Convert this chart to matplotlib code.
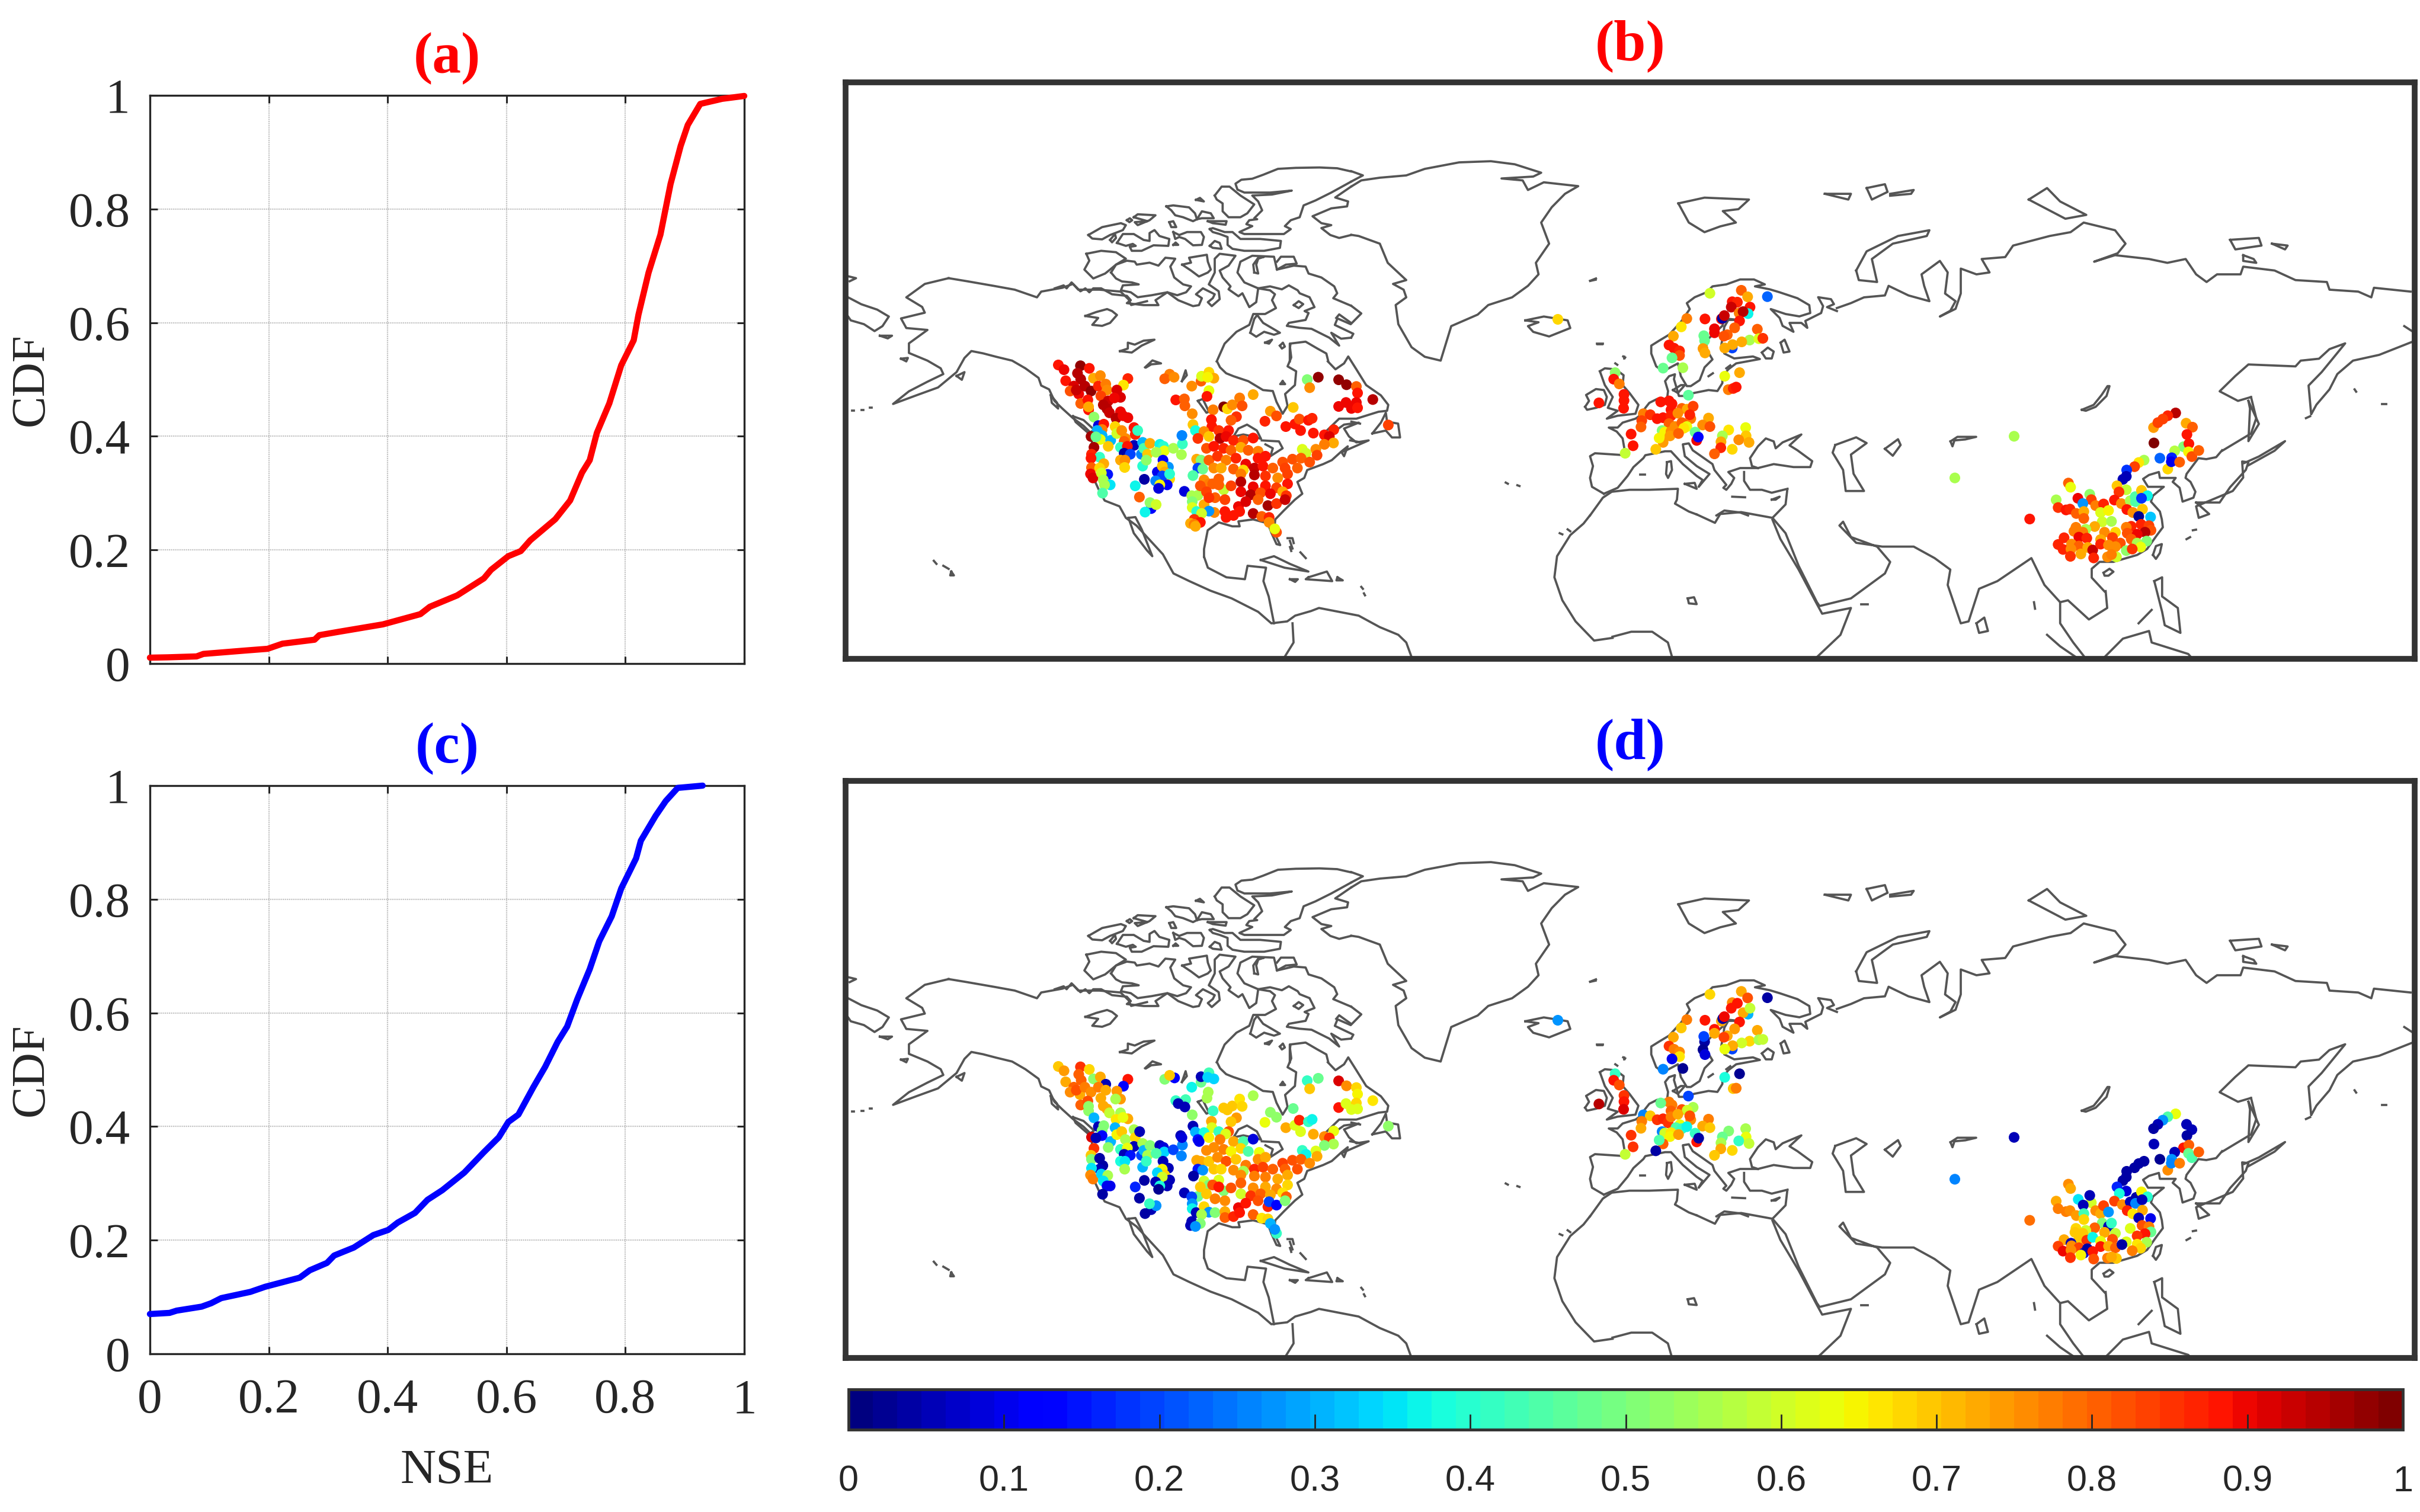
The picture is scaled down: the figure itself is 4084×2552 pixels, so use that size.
import numpy as np
import matplotlib
matplotlib.use('Agg')
from matplotlib import pyplot as plt
from matplotlib.cm import ScalarMappable
from matplotlib.colors import Normalize

W, H = 4084, 2552

# CDF curves (a) and (c)
nse_a = [0, .03, .0785, .09, .161, .198, .223, .277, .285, .318, .392, .455, .471, .517, .562, .574, .603, .624, .64,
         .682, .707, .727, .74, .752, .773, .793, .814, .822, .839, .859, .876, .893, .905, .926, .963, 1]
cdf_a = [.0104, .011, .0126, .017, .023, .026, .035, .042, .05, .056, .069, .087, .10, .12, .15, .165, .189, .198, .217,
         .254, .287, .336, .358, .406, .458, .525, .569, .614, .688, .755, .844, .911, .948, .985, .994, .999]
nse_c = [0, .033, .045, .087, .103, .12, .169, .194, .252, .269, .298, .31, .343, .376, .401, .417, .446, .467, .492,
         .529, .562, .587, .603, .62, .645, .665, .686, .702, .719, .74, .756, .777, .793, .818, .826, .851, .868, .888, .93]
cdf_c = [.07, .072, .076, .083, .089, .098, .109, .118, .134, .147, .16, .173, .187, .209, .218, .231, .248, .271, .288,
         .319, .355, .381, .408, .421, .469, .505, .549, .576, .624, .677, .726, .77, .819, .872, .903, .947, .973, .996, 1]

tick_vals = [0, .2, .4, .6, .8, 1]
tick_text = ['0', '0.2', '0.4', '0.6', '0.8', '1']
cbar_vals = [0, .1, .2, .3, .4, .5, .6, .7, .8, .9, 1]
cbar_text = ['0', '0.1', '0.2', '0.3', '0.4', '0.5', '0.6', '0.7', '0.8', '0.9', '1']

# digitising frames: origin x, origin y, scale x, scale y -> map units
FRAMES = {'z1': (1400, 120, 1.12, 1.545), 'z2': (2700, 120, 1.133, 1.545), 'z5': (1750, 580, 2.412, 3.0),
          'z6': (2650, 450, 3.0, 3.0), 'z7': (3250, 650, 3.0, 3.0), 'z12': (1780, 260, 3.0, 3.0),
          'z8': (1750, 577, 2.412, 3.0), 'z9': (2650, 447, 3.0, 3.0), 'z10': (3250, 647, 3.0, 3.0)}

coast_z1 = [
    [(35,590),(60,608),(90,622),(112,640),(100,665),(85,678),(65,660),(40,650),(35,640)],
    [(35,535),(50,540),(38,548)],
    [(225,540),(180,555),(145,590),(175,615),(180,630),(135,645),(145,670),(185,675),(150,710),(150,735),(185,755),(210,775),(215,790),(185,810),(150,835),(120,868),(165,845),(205,825),(240,785),(255,748),(268,730),(290,736),(315,745),(345,755),(370,775),(395,800),(400,820),(415,830),(425,860),(440,880),(460,905),(480,925),(495,945),(497,960),(492,1000),(495,1050),(510,1095),(520,1120),(548,1135),(560,1165),(580,1185),(600,1215),(630,1260),(650,1310),(680,1330),(720,1355),(760,1375),(810,1410),(835,1440),(865,1435),(880,1420),(910,1408),(925,1400),(1000,1420),(1040,1450),(1075,1470),(1090,1490),(1100,1528)],
    [(225,540),(260,548),(310,560),(350,570),(392,590),(400,575),(440,565),(460,555),(470,570),(510,570),(550,575),(565,595),(570,610),(600,600)],
    [(565,1165),(578,1163),(590,1195),(610,1265),(600,1250),(575,1205),(565,1165)],
    [(240,795),(255,785),(250,805),(240,795)],
    [(135,750),(148,748),(145,757),(135,750)],
    [(95,690),(118,690),(110,697),(95,690)],
    [(42,885),(46,885)], [(60,883),(64,883)], [(76,877),(80,877)],
    [(460,900),(480,910),(500,935),(490,945),(465,915),(460,900)],
    [(418,845),(430,865),(432,880),(420,865),(418,845)],
    [(708,1267),(715,1295),(750,1320),(785,1325),(790,1290),(825,1295),(820,1330),(830,1370),(840,1440)],
    [(875,1440),(877,1490),(860,1528)],
    [(815,1275),(840,1265),(870,1285),(905,1305),(860,1295),(815,1275)],
    [(905,1320),(940,1305),(950,1330),(900,1325),(905,1320)],
    [(870,1325),(885,1325),(880,1332),(870,1325)],
    [(960,1320),(970,1328),(958,1328),(960,1320)],
    [(197,1277),(202,1285)], [(215,1290),(225,1298)], [(230,1305),(235,1315),(228,1315),(230,1305)],
    [(1005,1345),(1008,1350)], [(1010,1362),(1012,1367)], [(1278,1073),(1282,1076)], [(1300,1080),(1304,1082)],
    [(1380,1205),(1385,1208)], [(1395,1195),(1400,1200)], [(870,1225),(875,1245)], [(890,1255),(900,1270)],
    [(1452,713),(1460,713)], [(1438,547),(1448,544)], [(1502,745),(1502,750)],
    [(1315,650),(1350,640),(1395,650),(1400,670),(1360,692),(1330,680),(1320,665),(1340,655),(1315,650)],
    [(1437,1159),(1425,1180),(1400,1210),(1375,1265),(1370,1320),(1385,1380),(1410,1435),(1445,1485),(1480,1478)],
    # Greenland
    [(986,301),(1005,285),(1040,278),(1090,272),(1125,255),(1190,238),(1250,235),(1295,243),(1345,265),(1330,275),(1270,280),(1310,285),(1320,310),(1350,290),(1415,300),(1390,320),(1365,355),(1345,395),(1360,450),(1335,500),(1340,530),(1320,560),(1290,590),(1245,610),(1225,635),(1175,665),(1165,710),(1155,755),(1125,745),(1100,720),(1075,660),(1070,610),(1090,590),(1085,570),(1065,555),(1090,545),(1055,500),(1040,450),(1000,430),(986,427)],
    [(986,261),(1008,272),(986,288)],
    [(986,612),(1005,632),(985,660),(960,645),(955,662),(990,685),(986,695)],
]
coast_z12 = [
    [(0,680),(45,665),(60,680),(85,650),(130,695),(155,680),(175,700),(195,680),(235,680),(290,710),(365,718),(385,740),(365,755),(450,765),(525,765),(510,740),(570,700),(625,740),(700,770),(730,765),(745,730),(715,710),(750,680),(810,710),(800,730),(775,750),(795,770),(835,735),(830,695),(780,660),(810,600),(810,530),(835,505),(915,515),(880,565),(835,590),(850,625),(890,670),(880,685),(930,720),(950,705),(985,775),(1020,750),(1030,680),(1090,690),(1115,710),(1100,740),(1120,780),(1065,810),(1025,810),(1005,810),(985,865),(920,900),(860,960),(820,1050)],
    [(1030,680),(960,650),(925,600),(940,545),(1000,515),(1110,520),(1125,585),(1210,565),(1270,570),(1285,605),(1350,625),(1415,670),(1430,705),(1410,730),(1500,768)],
    [(1030,680),(1090,670),(1150,685),(1185,665),(1230,690),(1240,705),(1290,725),(1315,775),(1265,795),(1285,805),(1270,840),(1185,855),(1175,870),(1240,880),(1300,885),(1390,930),(1440,970),(1400,905),(1450,935),(1500,930)],
    [(1010,600),(1005,560),(1030,525),(1060,520),(1030,530),(1020,560),(1030,605),(1010,600)],
    [(1125,545),(1145,520),(1210,520),(1225,555),(1170,560),(1125,585)],
    [(1210,765),(1235,745),(1258,760),(1235,780),(1210,765)],
    [(1425,830),(1440,812),(1500,855)],
    [(170,410),(240,370),(335,350),(360,360),(345,385),(280,410),(240,432),(190,428),(170,410)],
    [(280,435),(305,405),(310,425),(290,447),(280,435)],
    [(315,450),(345,405),(400,405),(450,435),(480,440),(480,400),(505,385),(530,415),(580,430),(575,465),(500,462),(440,490),(390,490),(380,470),(410,465),(395,455),(360,465),(315,450)],
    [(400,320),(420,305),(510,310),(480,335),(420,360),(405,345),(470,340),(400,320)],
    [(365,335),(380,325),(392,335),(378,345),(365,335)],
    [(565,265),(600,260),(680,270),(710,300),(720,330),(700,340),(650,320),(610,310),(590,285),(565,265)],
    [(720,330),(745,290),(790,300),(805,325),(745,325),(720,330)],
    [(775,340),(870,340),(865,358),(800,350),(775,340)],
    [(580,345),(600,340),(615,370),(590,370),(580,345)],
    [(715,232),(735,222),(755,240),(715,232)],
    [(600,395),(630,410),(670,395),(740,395),(755,420),(745,460),(700,462),(660,430),(630,420),(610,430),(600,395)],
    [(600,460),(612,448),(625,460),(600,460)],
    [(785,380),(800,375),(860,395),(900,395),(940,430),(1040,430),(1145,440),(1140,475),(1060,490),(960,490),(900,480),(875,460),(875,420),(835,405),(800,395),(785,380)],
    [(785,465),(810,440),(835,450),(845,480),(800,475),(785,465)],
    [(160,505),(235,490),(310,497),(360,530),(310,560),(280,585),(255,605),(195,630),(165,600),(150,585),(175,540),(160,505)],
    [(285,600),(310,560),(365,540),(405,545),(415,560),(480,550),(525,565),(560,525),(610,530),(585,570),(605,625),(650,660),(690,670),(665,700),(620,715),(570,700),(490,715),(420,725),(385,700),(335,690),(345,665),(425,660),(390,650),(340,645),(310,630),(285,600)],
    [(645,560),(690,550),(680,525),(770,510),(775,545),(790,585),(775,600),(730,620),(690,590),(645,560)],
    [(155,820),(210,800),(265,785),(290,795),(315,815),(280,855),(240,870),(190,865),(220,830),(155,820)],
    [(330,998),(370,985),(370,955),(405,965),(450,945),(505,940),(440,970),(390,1005),(330,998)],
    [(990,905),(1010,835),(1025,815),(1055,855),(1140,905),(1110,915),(1060,900),(1020,925),(990,905)],
    [(1065,955),(1100,940),(1085,960),(1065,955)],
    [(1140,970),(1155,955),(1165,975),(1150,985),(1140,970)],
    [(1190,1050),(1190,960),(1270,950),(1330,985),(1375,1010),(1385,1050)],
    # Ellesmere, Devon and the west side of Greenland
    [(1500,88),(1430,72),(1340,68),(1220,70),(1130,75),(1055,105),(1000,125),(945,130),(915,150),(925,180),(960,195),(1090,195),(1200,185),(1100,205),(1000,210),(1030,240),(1050,285),(1010,325),(1025,330),(985,335),(970,355),(1000,365),(935,395),(960,405),(1100,405),(1160,405),(1195,380),(1165,365),(1195,335),(1240,320),(1260,260),(1320,235),(1400,195),(1500,140)],
    [(810,210),(845,165),(885,165),(940,210),(1010,255),(975,300),(940,320),(880,320),(850,290),(850,250),(820,230),(810,210)],
    [(1500,165),(1420,220),(1485,240),(1480,265),(1400,275),(1305,315),(1350,350),(1400,360),(1350,375),(1395,410),(1440,425),(1500,410)],
]
coast_z5 = [
    [(733,90),(745,120),(770,150),(800,165),(860,190),(920,235),(960,240),(975,295),(1000,355),(1020,315),(1010,255),(1050,210),(1055,140),(1020,115),(1035,70),(1030,20),(1032,0)],
    [(1184,90),(1215,130),(1250,100),(1267,65),(1300,130),(1340,210),(1400,262),(1430,310),(1425,340),(1390,345),(1300,380),(1230,380),(1180,440),(1160,470),(1210,445),(1250,410),(1310,400),(1250,430),(1270,470),(1300,500),(1350,490),(1240,550),(1250,570),(1265,520),(1240,545),(1200,590),(1165,610),(1100,640),(1088,680),(1060,700),(1080,760),(1050,790),(1005,845),(970,890),(965,955),(990,1020),(975,1015),(955,960),(940,910),(880,890),(820,900),(825,925),(795,925),(740,905),(695,945),(680,1040),(680,1080)],
    [(800,470),(820,430),(855,410),(895,440),(912,482),(880,470),(840,460),(800,470)],
    [(915,490),(985,495),(1000,530),(950,570),(960,530),(930,510)],
    [(655,290),(675,280),(700,345),(690,350),(655,290)],
    [(440,120),(470,85),(505,100),(465,105),(445,120)],
    [(590,190),(605,135),(610,160),(590,190)],
    [(1000,190),(1010,205),(990,205),(1000,190)],
    [(1365,455),(1400,400),(1420,350),(1425,395),(1470,405),(1478,475),(1445,475),(1420,440),(1365,455)],
    [(1280,395),(1315,405)], [(1275,490),(1320,500)],
    [(1020,985),(1040,985),(1045,1010)], [(1030,1030),(1035,1050)],
]
coast_z6 = [
    [(100,1260),(165,1170),(210,1140),(300,1130),(400,1130),(545,1125),(540,1180),(530,1200),(600,1240),(640,1255)],
    [(170,1150),(110,1115),(100,1070),(115,1010),(100,960),(125,945),(278,955)],
    [(170,1150),(240,1120),(290,1060),(320,1015),(370,970),(380,955),(480,935),(510,935),(570,1000),(640,1060),(670,1080),(650,1115),(705,1050),(640,1010),(580,960),(570,900),(600,895),(620,930),(720,1000),(730,1030),(790,1105),(775,1120),(790,1130),(815,1100),(830,1070),(800,1040),(860,1020),(950,1020)],
    [(278,945),(265,870),(235,835),(195,815),(240,815),(265,790),(330,770),(345,760),(400,690),(440,670),(490,670),(495,630),(480,580),(500,555),(530,545),(525,570),(540,620),(550,655),(600,655),(625,640),(700,625),(745,630),(770,590),(770,560),(800,520),(840,490),(960,468),(925,455),(830,465),(780,440),(765,395),(775,340),(780,305),(800,270),(850,270),(780,262),(770,300),(720,345),(690,375),(690,420),(720,470),(680,510),(655,575),(610,605),(590,605),(560,555),(545,490),(470,530),(435,505),(410,440),(410,400),(450,375),(500,345),(560,280),(605,215),(590,185),(630,155),(690,130),(720,100),(790,90),(860,65),(930,65),(985,90),(935,100),(1010,115),(1060,130),(1150,160),(1210,195),(1215,235),(1160,252),(1090,240),(1015,215),(1060,260),(1075,300),(1130,330),(1110,285),(1170,285),(1200,310),(1190,275),(1270,235),(1280,200),(1255,155),(1320,165),(1335,190),(1300,205),(1350,225)],
    [(950,1020),(920,1010),(910,970),(950,910),(990,870),(1030,885),(1040,920),(1075,890),(1170,850),(1110,905),(1150,930),(1225,985),(1215,1015),(1130,1015),(1030,1000),(950,1020)],
    [(880,1040),(880,1085),(910,1130),(970,1130),(1020,1145),(1100,1125)],
    [(75,710),(95,680),(80,650),(130,620),(170,625),(185,660),(175,700),(130,715),(85,725),(75,710)],
    [(150,530),(175,515),(230,520),(270,550),(265,600),(300,640),(345,700),(330,745),(240,755),(185,770),(240,730),(190,715),(215,660),(195,630),(175,600),(150,530)],
    [(100,72),(130,60)], [(135,390),(165,390)], [(268,455),(278,460)], [(228,490),(238,497)], [(700,555),(722,540)], [(790,515),(810,500)],
    [(490,990),(510,985),(515,1030),(495,1070),(485,1050),(490,990)],
    [(580,1100),(630,1095),(640,1125),(580,1100)],
    [(355,1053),(378,1053)], [(820,1165),(885,1168)], [(1020,1180),(1060,1165),(1040,1180),(1020,1180)],
    [(970,435),(1000,410),(1030,430),(1020,465),(990,465),(970,435)],
    [(1065,385),(1085,370),(1110,430),(1080,435),(1065,385)],
    [(520,625),(560,600),(580,600),(545,640),(520,625)],
    [(740,1260),(780,1235),(860,1245),(900,1260)],
]
coast_z2 = [
    [(24,1475),(60,1462),(100,1462),(130,1490),(138,1528)],
    [(185,1156),(220,1178),(230,1155),(270,1150),(330,1165),(355,1130),(358,1095)],
    [(453,618),(480,605),(505,590),(545,585),(552,560),(590,585),(630,600),(620,560),(615,530),(650,495),(665,525),(660,580),(680,600),(670,625),(650,640),(680,620),(690,580),(690,515),(720,530),(745,525),(730,490),(775,485),(790,455),(860,430),(900,420),(925,395),(985,415),(1005,450),(990,475),(945,497),(985,480),(1050,490),(1085,500),(1120,490),(1140,530),(1160,550),(1180,530),(1225,530),(1230,510),(1290,520),(1330,545),(1390,550),(1395,570),(1450,575),(1475,590),(1480,565),(1550,575)],
    [(1538,665),(1555,680),(1555,705),(1490,740),(1440,755),(1410,790),(1395,830),(1370,870),(1360,895),(1355,820),(1380,785),(1425,710),(1395,725),(1375,750),(1340,755),(1330,770),(1240,765),(1215,795),(1185,835),(1220,860),(1245,850)],
    [(1245,850),(1255,905),(1245,945),(1190,990)],
    [(1240,860),(1260,920),(1240,965),(1243,880),(1240,860)],
    [(330,1165),(355,1205),(380,1290),(415,1385),(420,1395),(480,1375),(545,1310),(555,1280),(530,1240),(480,1215),(465,1175),(458,1185),(490,1230),(540,1240),(600,1240),(640,1270),(670,1300),(665,1340),(690,1440),(705,1435),(725,1350),(760,1330),(825,1270),(850,1340),(880,1385)],
    [(330,1170),(345,1220),(380,1300),(415,1390),(425,1415),(480,1400),(460,1470),(415,1528)],
    [(967,1356),(970,1400),(935,1430),(895,1380),(880,1385),(880,1440),(905,1490),(925,1525)],
    [(855,1470),(880,1500),(910,1528)],
    [(720,1440),(735,1425),(742,1460),(725,1465),(720,1440)],
    [(168,1375),(180,1372),(185,1390),(170,1388),(168,1375)],
    [(500,1390),(512,1390)], [(830,1385),(832,1402)],
    [(1140,1125),(1185,1125),(1205,1085),(1235,1040),(1240,1020),(1228,1018),(1230,1060),(1210,1095),(1175,1115),(1140,1135),(1145,1165),(1165,1155),(1140,1125)],
    [(1232,1022),(1260,1005),(1310,965),(1290,990),(1240,1028)],
    [(1060,1330),(1075,1320),(1075,1370),(1105,1400),(1110,1465),(1080,1445),(1075,1410),(1060,1330)],
    [(1030,1440),(1055,1405)],
    [(965,1528),(1000,1480),(1050,1460),(1055,1490),(1125,1520),(1130,1528)],
    [(1350,905),(1358,900)], [(1443,830),(1446,836)], [(1495,868),(1503,868)],
    [(150,345),(200,330),(285,335),(265,360),(235,365),(260,395),(230,405),(200,420),(170,395),(150,345)],
    [(430,320),(480,320),(475,335),(430,320)],
    [(510,305),(545,295),(550,315),(520,335),(510,305)],
    [(555,320),(600,310),(595,320),(555,325)],
    [(490,520),(510,470),(570,430),(630,415),(625,430),(560,450),(520,490),(530,550),(495,545),(490,520)],
    [(820,335),(855,305),(880,340),(930,375),(890,385),(820,335)],
    [(1205,440),(1260,435),(1265,455),(1215,465),(1205,440)],
    [(1285,450),(1315,455),(1310,465),(1285,450)],
    [(1230,480),(1250,490),(1255,500),(1230,495),(1230,480)],
    [(450,975),(490,955),(510,970),(480,1000),(485,1050),(505,1095),(470,1095),(465,1040),(445,995),(450,975)],
    [(545,985),(570,960),(575,975),(560,1003),(545,985)],
]
coast_z7 = [
    [(1500,330),(1470,365),(1420,375),(1380,370),(1320,450),(1315,470),(1340,490),(1365,540),(1355,570),(1300,590),(1285,520),(1250,490),(1265,470),(1185,470),(1180,440),(1130,455),(1100,475),(1125,515),(1205,515),(1150,560),(1140,590),(1185,640),(1195,680),(1200,720),(1170,760),(1120,830),(1070,860),(950,895),(880,895),(840,930),(840,975),(905,1045)],
    [(900,950),(930,930),(950,945),(925,965),(905,965),(900,950)],
    [(1150,860),(1165,815),(1195,805),(1185,850),(1165,880),(1150,860)],
    [(125,285),(160,262),(255,262),(200,275),(145,280),(135,310),(125,285)],
    [(790,125),(850,100),(890,50),(920,5),(930,5),(915,55),(860,110),(810,130),(790,125)],
    [(1320,780),(1338,770)], [(1352,735),(1368,732)],
]

# stations of panel (b): x, y, NSE
na_b = [(87,108,.89),(110,132,.9),(177,112,.97),(213,125,.89),(117,188,.88),(165,150,.95),(178,180,.95),(230,175,.73),(258,162,.76),(370,177,.87),(352,210,.66),(150,215,.92),(135,240,.82),(170,255,.9),(160,235,.93),(195,215,.95),(220,240,.97),(250,215,.87),(280,205,.78),(285,235,.76),(260,265,.84),(290,290,.93),(325,235,.92),(340,272,.92),(315,275,.9),(270,310,.95),(285,330,.95),(295,350,.93),(178,303,.8),(207,285,.88),(210,335,.89),(210,320,.72),(232,372,.52),(340,345,.9),(322,378,.95),(370,375,.9),(350,365,.9),
        (250,415,.08),(272,408,.89),(265,435,.78),(245,440,.3),(265,465,.3),(258,485,.64),(220,470,.96),(240,472,.48),(232,525,.96),(300,490,.3),(290,520,.7),(318,420,.68),(325,455,.6),(345,440,.75),(360,480,.76),(355,495,.8),(395,425,.88),(400,460,.86),(340,525,.42),(395,515,.06),(368,520,.88),(410,440,.42),(355,555,.04),(380,560,.2),(430,500,.3),(425,560,.25),(435,530,.45),(460,505,.72),(450,560,.7),(500,510,.37),(515,520,.4),(518,543,.64),(555,530,.55),(485,550,.55),(592,508,.42),(590,465,.25),(588,562,.55),
        (222,560,.87),(255,575,.42),(220,580,.88),(272,608,.72),(222,628,.8),(255,630,.68),(218,660,.9),(228,680,.92),(288,662,.15),(262,655,.6),(270,690,.55),(298,715,.35),(275,715,.55),(267,757,.45),
        (340,590,.72),(358,590,.76),(357,627,.68),(430,620,.4),(445,590,.52),(513,590,.12),(490,650,.1),(535,625,.28),(510,620,.7),(520,650,.72),(540,685,.68),(510,670,.2),(483,695,.25),(540,660,.4),(530,715,.12),(500,715,.65),(495,733,.08),(437,687,.04),(400,720,.37),(417,777,.8),(465,835,.12),(460,805,.52),(485,815,.6),(440,853,.36),(600,748,.09),
        (655,768,.55),(630,770,.55),(632,800,.5),(632,830,.62),(650,850,.4),(680,815,.72),(722,855,.75),(700,848,.28),(670,860,.6),(640,890,.85),(665,905,.88),(625,910,.72),(640,915,.78),(645,925,.72),
        (650,585,.72),(668,590,.5),(655,630,.2),(675,635,.48),(635,668,.45),(630,215,.75),(668,190,.8),(540,155,.78),(520,178,.8),(558,170,.76),(565,285,.89),(600,280,.8),(602,315,.8),(632,355,.76),(635,410,.7),(645,440,.38),(670,165,.62),(700,145,.68),(720,175,.73),(695,170,.65),(700,238,.63),(692,267,.89),(717,335,.78),(760,320,1.0),(775,330,.68),(795,310,.76),(825,275,.77),(835,315,.82),(880,258,.72),(812,370,.85),(790,388,.8),(1043,323,.7),(950,342,.74),(975,366,.82),(928,393,.87),(1013,420,.88),(1050,407,.88),(1068,382,.82),(1073,440,.88),(1105,388,.88),(1120,378,.87),(1125,453,.88),(1100,182,.5),(1145,170,.98),(1110,223,.76),(1228,183,.98),(1260,208,.98),(1300,217,.8),(1305,250,.89),(1367,283,.95),(1228,318,.9),(1258,298,.9),(1300,298,.9),(1280,328,.9),(1305,325,.89),(1430,412,.84),(1208,436,.87),(1170,462,.88),(1190,470,.92),(1207,503,.73),(1170,510,.77),(1135,535,.76),(1140,565,.83),(1080,535,.62),(1095,555,.6),
        (710,385,.89),(712,420,.88),(680,445,.76),(740,440,.85),(780,440,.88),(655,480,.85),(700,470,.7),(745,480,.95),(770,470,.9),(800,490,.86),(840,490,.82),(880,478,.88),(690,530,.82),(720,520,.88),(760,530,.86),(790,540,.8),(830,525,.72),(860,540,.8),(900,545,.78),
        (700,590,.8),(735,570,.85),(770,590,.78),(810,580,.86),(850,610,.9),(900,580,.89),(930,570,.88),(1000,600,.82),(1040,585,.82),(1075,580,.8),(1110,600,.82),(720,630,.76),(750,630,.72),(800,635,.8),(840,640,.68),(885,630,.93),(920,620,.89),(960,630,.8),(1010,630,.84),(1060,630,.8),
        (680,690,.75),(700,710,.78),(740,685,.8),(830,660,.78),(885,665,.94),(930,670,.85),(980,680,.76),(1020,660,.84),(665,720,.82),(715,710,.8),(760,740,.58),(790,720,.83),(830,700,.94),(880,725,.9),(930,720,.88),(975,730,.84),(1020,710,.88),(740,715,.8),
        (690,750,.84),(725,780,.8),(765,790,.83),(830,750,.9),(870,765,.95),(910,755,.82),(950,760,.9),(1000,750,.72),(1015,770,.85),(700,780,.85),(820,825,.9),(850,800,.92),(900,790,.8),(940,820,.96),(975,810,.85),(1010,790,.93),
        (765,850,.88),(770,880,.89),(800,870,.88),(825,850,.89),(880,860,.95),(915,875,.8),(945,880,.87),(945,905,.76),(975,955,.82),(968,938,.64)]
eu_b = [(-63,267,.68),(707,135,.6),(866,120,.8),(898,153,.72),(998,152,.22),(820,178,.88),(846,180,.86),(815,205,.93),(910,205,.88),(900,238,.36),(855,235,.78),(875,228,.95),(590,263,.78),(682,265,.88),(765,265,.86),(770,262,.04),(780,248,.93),(857,275,.88),(562,305,.66),(730,315,.9),(730,335,.9),(832,310,.81),(947,317,.81),(522,352,.72),(795,345,.81),(778,352,.82),(676,350,.48),(680,375,.48),(908,372,.55),(868,381,.72),(955,365,.62),(975,363,.85),(820,412,.2),(822,395,.72),(782,412,.72),(500,397,.88),(525,413,.88),(553,427,.86),(553,450,.82),(672,415,.74),(682,437,.72),(515,462,.48),(470,514,.47),(570,512,.55),(227,537,.52),(782,555,.63),(857,537,.73),(220,570,.88),(248,594,.77),(272,647,.88),(272,678,.88),(270,717,.88),(145,690,.88),(598,651,.46),(800,623,.78),(825,617,.87),(840,610,.88),
        (458,685,.89),(500,680,.89),(515,695,.88),(510,725,.89),(565,718,.8),(592,722,.72),(622,707,.84),(370,745,.78),(405,750,.85),(440,770,.88),(470,765,.88),(495,775,.88),(510,755,.87),(545,742,.76),(610,770,.78),(605,750,.87),(700,767,.72),(362,780,.84),(358,812,.8),(500,795,.8),(530,810,.76),(565,790,.8),(590,810,.64),(575,818,.66),(670,802,.75),(707,810,.82),(465,830,.5),(478,838,.65),(510,835,.75),(505,857,.74),(548,845,.8),(632,838,.47),(640,880,.9),(648,863,.11),(308,848,.88),(318,907,.89),(470,890,.74),(450,868,.65),(433,925,.7),(278,945,.58),(802,827,.67),(888,815,.64),(770,857,.55),(890,857,.7),(853,877,.75),(763,887,.72),(905,890,.73),(762,917,.87),(820,925,.68),(730,948,.8)]
as_b = [(147,470,.56),(447,259,.56),(526,678,.89),(1265,141,.95),(1225,155,.86),(1200,172,.84),(1153,215,.74),(1175,190,.84),(1318,193,.72),(1350,213,.8),(1322,250,.89),(1155,293,1.0),(1305,312,.5),(1332,297,.89),(1260,333,.57),(1330,338,.65),(1347,362,.82),(1382,331,.81),(1105,380,.55),(1078,392,.67),(1057,413,.83),(1185,370,.22),(1225,425,.68),(1245,368,.17),(1243,388,.1),(1285,390,.8),(1017,430,.18),(1015,462,.06),(998,477,.05),(968,510,.7),(1015,530,.58),(978,541,.85),(722,496,.8),(733,517,.63),(830,553,.53),(838,580,.83),(770,573,.9),(660,581,.55),(795,600,.27),(670,620,.85),(710,632,.88),(730,628,.87),(762,650,.8),(800,640,.72),(860,610,.78),(900,602,.86),(955,582,.88),(990,600,.75),(1035,585,.55),(1060,565,.45),(1062,590,.45),(1092,533,.7),(1122,560,.36),(1092,573,.18),(1018,630,.88),(1048,645,.75),(1097,628,.7),(885,645,.62),(925,635,.65),(800,675,.8),(1078,665,.03),(1138,668,.32),(893,692,.6),(940,690,.55),(760,720,.78),(750,740,.78),(855,716,.73),(810,730,.55),(795,745,.78),(1040,715,.86),(1015,720,.78),(1090,705,.87),(1130,712,.84),(905,745,.76),(960,745,.68),(1020,750,.82),(1140,735,.82),(1110,745,.95),(1070,755,.9),(700,773,.87),(670,807,.87),(775,770,.9),(815,775,.87),(885,782,.72),(945,772,.84),(985,800,.82),(1040,780,.8),(1118,790,.5),(1070,800,.55),(738,805,.76),(775,815,.8),(820,822,.73),(695,832,.87),(735,830,.76),(845,835,.93),(885,805,.86),(925,810,.75),(960,818,.75),(1015,838,.52),(1088,820,.63),(1045,830,.85),(785,855,.72),(732,867,.85),(850,875,.87),(965,870,.6),(920,870,.76),(940,858,.77)]

# stations of panel (d): x, y, NSE
na_d = [(87,120,.7),(110,142,.74),(177,122,.85),(213,135,.68),(117,198,.72),(170,160,.8),(180,190,.8),(230,183,.52),(258,173,.72),(280,210,.05),(370,185,.89),(352,220,.12),(150,225,.8),(135,250,.75),(175,262,.72),(160,240,.82),(195,225,.78),(220,250,.75),(250,225,.78),(280,240,.72),(260,280,.72),(325,245,.74),(340,285,.74),(320,285,.55),(270,320,.72),(285,335,.72),(295,355,.58),(178,315,.8),(207,295,.82),(210,322,.52),(210,345,.52),(232,380,.3),(340,355,.55),(322,388,.67),(370,385,.72),(350,378,.63),
        (250,425,.05),(272,420,.5),(265,445,.5),(318,430,.3),(222,478,.92),(265,470,.12),(240,482,.06),(232,535,.85),(300,500,.3),(290,530,.52),(325,465,.65),(345,450,.7),(360,490,.55),(395,440,.55),(400,480,.68),(340,540,.42),(395,525,.05),(368,533,.63),(418,450,.05),(355,565,.05),(380,570,.15),(430,510,.55),(425,570,.2),(435,545,.3),(460,520,.5),(450,570,.55),(500,520,.05),(515,530,.08),(518,553,.33),(555,542,.2),(485,560,.45),(592,518,.25),(585,470,.05),(590,480,.08),(588,573,.25),
        (220,570,.7),(222,590,.5),(255,585,.04),(268,622,.04),(255,640,.06),(222,635,.35),(218,670,.75),(228,690,.78),(262,665,.33),(288,672,.55),(270,700,.35),(285,725,.1),(298,725,.1),(267,767,.04),
        (340,600,.38),(358,600,.35),(357,640,.55),(430,630,.3),(445,600,.42),(513,600,.05),(535,635,.05),(510,640,.65),(520,670,.68),(490,658,.33),(540,695,.05),(510,680,.6),(483,705,.05),(530,725,.05),(500,725,.38),(495,742,.03),(437,697,.04),(400,730,.16),(417,787,.04),(465,845,.05),(440,865,.04),(485,825,.28),(458,815,.42),(600,760,.05),
        (655,778,.48),(630,780,.2),(632,815,.28),(632,840,.36),(648,860,.05),(680,830,.68),(700,858,.28),(725,860,.5),(670,870,.55),(630,905,.05),(625,925,.05),(665,915,.5),(645,930,.28),
        (650,595,.72),(668,600,.72),(655,640,.15),(675,645,.28),(637,675,.04),(630,225,.37),(668,200,.47),(520,185,.5),(560,178,.12),(540,165,.7),(668,172,.05),(700,152,.43),(720,183,.33),(695,175,.33),(697,250,.55),(692,280,.55),(565,293,.42),(605,288,.43),(575,308,.05),(602,325,.05),(632,365,.53),(717,345,.42),(760,330,.7),(775,340,.7),(795,320,.7),(825,285,.67),(835,322,.68),(880,268,.55),(812,380,.74),(790,400,.7),(1043,333,.47),(950,352,.53),(975,377,.53),(928,403,.63),(1013,430,.73),(1050,418,.62),(1068,392,.87),(1073,450,.62),(1105,400,.42),(1120,388,.37),(1125,463,.72),(1100,192,.42),(1145,180,.48),(1110,233,.7),(1228,193,.92),(1260,218,.76),(1300,227,.68),(1305,260,.65),(1367,293,.66),(1228,328,.88),(1258,308,.62),(1300,305,.68),(1280,338,.62),(1305,335,.62),(1430,422,.53),(1208,447,.63),(1170,475,.75),(1190,482,.85),(1207,513,.55),(1170,520,.5),(1135,548,.62),(1140,575,.72),(1080,545,.42),(1095,565,.36),
        (710,398,.72),(712,430,.62),(635,422,.05),(645,452,.3),(680,455,.38),(740,450,.42),(780,450,.82),(768,462,.62),(655,490,.15),(660,500,.1),(700,480,.65),(745,490,.78),(800,500,.72),(840,500,.45),(880,488,.08),
        (690,545,.75),(720,530,.75),(760,540,.78),(790,550,.65),(830,535,.68),(860,550,.45),(905,555,.63),(700,600,.7),(735,580,.76),(770,600,.82),(810,590,.7),(850,620,.78),(900,590,.75),(930,580,.72),(1000,610,.84),(1040,595,.82),(1075,590,.8),(1110,610,.75),(720,640,.7),(750,640,.68),(800,645,.76),(840,650,.55),(885,640,.86),(920,630,.84),(960,640,.8),(1010,640,.8),(1060,640,.82),
        (680,700,.6),(700,720,.5),(740,695,.62),(830,670,.76),(885,675,.78),(930,680,.78),(980,690,.72),(1020,670,.72),(665,730,.7),(715,720,.82),(760,750,.5),(790,735,.82),(830,710,.8),(880,735,.75),(930,730,.72),(975,740,.76),(1020,720,.68),(740,730,.88),
        (690,765,.7),(725,790,.78),(765,800,.76),(830,765,.6),(870,775,.85),(910,765,.8),(950,770,.72),(1000,760,.66),(1015,780,.8),(820,835,.9),(850,812,.89),(900,800,.82),(940,830,.86),(945,805,.2),(975,822,.12),(1010,800,.5),
        (765,855,.72),(765,885,.8),(800,880,.87),(825,860,.88),(880,870,.8),(915,888,.66),(940,892,.68),(950,915,.3),(975,965,.42),(968,945,.27)]
eu_d = [(-63,276,.28),(707,145,.68),(866,130,.73),(898,163,.82),(998,162,.04),(820,187,.76),(846,190,.88),(815,215,.88),(900,245,.3),(875,238,.72),(910,215,.58),(590,273,.78),(682,276,.88),(765,280,.72),(772,268,.04),(780,258,.9),(857,285,.88),(562,315,.7),(730,322,.88),(730,342,.72),(832,320,.74),(947,327,.73),(522,362,.73),(795,355,.73),(778,362,.84),(680,385,.04),(676,358,.2),(908,382,.68),(868,391,.6),(955,375,.55),(975,373,.58),(820,422,.2),(822,405,.72),(782,422,.63),(500,407,.85),(525,423,.77),(553,437,.75),(553,460,.67),(672,425,.03),(682,450,.09),(515,472,.1),(470,524,.25),(570,520,.03),(227,547,.42),(782,565,.38),(857,547,.03),(220,580,.88),(248,604,.82),(272,657,.85),(272,688,.88),(270,727,.92),(145,700,.95),(598,660,.2),(825,622,.7),(840,620,.78),
        (500,690,.78),(458,695,.48),(515,705,.78),(510,735,.8),(565,728,.82),(622,717,.55),(592,732,.6),(370,755,.25),(405,760,.7),(440,780,.85),(470,775,.86),(495,795,.85),(510,765,.78),(545,752,.72),(610,780,.75),(605,760,.82),(700,777,.77),(362,788,.78),(358,823,.73),(555,805,.64),(535,820,.45),(565,825,.42),(590,815,.36),(670,812,.72),(707,820,.7),(465,840,.25),(478,848,.6),(510,845,.66),(505,865,.65),(548,855,.74),(632,848,.42),(640,892,.88),(650,873,.04),(308,858,.85),(318,917,.85),(470,902,.8),(450,883,.45),(433,937,.04),(278,955,.58),(802,837,.5),(888,825,.55),(770,867,.47),(890,867,.63),(853,887,.42),(763,897,.55),(905,900,.58),(762,927,.73),(820,935,.68),(730,960,.69)]
as_d = [(147,481,.25),(447,269,.05),(526,689,.79),(1265,150,.63),(1225,165,.45),(1200,182,.28),(1175,203,.05),(1153,225,.04),(1320,203,.05),(1347,230,.05),(1322,260,.04),(1155,303,.05),(1305,322,.88),(1332,308,.8),(1260,344,.05),(1330,350,.47),(1347,372,.45),(1382,343,.81),(1105,390,.04),(1078,402,.04),(1057,423,.04),(1185,380,.03),(1225,435,.76),(1245,380,.28),(1243,400,.25),(1285,400,.78),(1017,441,.04),(1015,470,.04),(998,488,.04),(968,520,.17),(1015,541,.08),(980,553,.38),(722,506,.75),(733,528,.73),(838,600,.6),(830,563,.05),(772,583,.35),(660,592,.73),(797,612,.05),(670,630,.78),(710,645,.77),(730,640,.75),(762,665,.74),(800,655,.43),(860,640,.75),(885,655,.73),(900,615,.84),(955,592,.84),(995,610,.75),(1035,596,.05),(1065,573,.04),(1062,603,.25),(1092,545,.65),(1122,570,.4),(1095,585,.05),(1020,640,.87),(1048,656,.66),(1097,638,.72),(925,647,.27),(800,685,.68),(1078,677,.05),(1138,680,.1),(893,703,.5),(925,720,.06),(940,703,.42),(760,730,.68),(755,750,.69),(855,727,.8),(810,740,.6),(795,755,.7),(1035,730,.62),(1095,715,.82),(1130,722,.78),(905,750,.72),(960,755,.58),(1140,748,.47),(1110,757,.89),(1070,768,.85),(700,787,.72),(670,820,.83),(775,785,.7),(815,790,.85),(845,775,.36),(885,795,.63),(945,785,.82),(1015,798,.62),(1118,800,.55),(1070,810,.66),(735,805,.05),(738,818,.76),(775,828,.83),(695,845,.9),(735,840,.76),(800,855,.08),(818,833,.04),(845,847,.88),(885,822,.88),(925,820,.72),(960,828,.8),(993,812,.04),(1088,830,.68),(1045,843,.78),(785,865,.65),(732,878,.85),(850,885,.82),(965,882,.7),(920,880,.78),(940,875,.72)]


def to_map(points, frame):
    # digitised crop coordinates -> reference pixel units used by the map axes
    x0, y0, sx, sy = FRAMES[frame]
    pts = np.array(points, dtype=float)
    return x0 + pts[:, 0] / sx, y0 + pts[:, 1] / sy


def make_axes(fig, left, top, right, bottom):
    return fig.add_axes([left / W, 1 - bottom / H, (right - left) / W, (bottom - top) / H])


def draw_cdf(ax, x, y, color, title):
    ax.plot(x, y, color=color, lw=7.5, solid_capstyle='round', clip_on=False, zorder=5)
    ax.set_xlim(0, 1)
    ax.set_ylim(0, 1)
    ax.set_xticks(tick_vals)
    ax.set_yticks(tick_vals)
    ax.set_yticklabels(tick_text)
    ax.grid(True, color='#c4c4c4', lw=1.6, ls=(0, (1, 0.6)))
    ax.set_axisbelow(True)
    ax.tick_params(direction='in', top=True, right=True, length=9, width=2.2, color='#262626',
                   labelcolor='#262626', labelsize=60, pad=24)
    ax.tick_params(axis='x', pad=30)
    for s in ax.spines.values():
        s.set_linewidth(2.4)
        s.set_color('#262626')
    ax.set_ylabel('CDF', fontsize=58, color='#262626')
    ax.yaxis.set_label_coords((90 - 253) / 1003, 0.5)
    ax.set_title(title, color=color, fontsize=70, fontweight='bold', pad=28)


def draw_map(ax, dots, y_shift, title, color):
    for frame, lines in coast_groups:
        for line in lines:
            mx, my = to_map(line, frame)
            ax.plot(mx, my + y_shift, color='#555555', lw=2.7, solid_joinstyle='round', zorder=1)
    for frame, group in dots:
        mx, my = to_map(group, frame)
        ax.scatter(mx, my + y_shift, c=np.array(group)[:, 2], cmap=jet, vmin=0, vmax=1, s=170,
                   linewidths=0, zorder=2)
    ax.set_xticks([])
    ax.set_yticks([])
    for s in ax.spines.values():
        s.set_linewidth(7)
        s.set_color('#333333')
    ax.set_title(title, color=color, fontsize=70, fontweight='bold', pad=27)


plt.rcParams['font.family'] = ['Liberation Serif', 'DejaVu Serif']
jet = plt.get_cmap('jet', 64)
coast_groups = [('z1', coast_z1), ('z2', coast_z2), ('z5', coast_z5), ('z6', coast_z6), ('z7', coast_z7), ('z12', coast_z12)]

fig = plt.figure(figsize=(W / 100, H / 100), dpi=100, facecolor='white')

ax_a = make_axes(fig, 253, 161, 1256, 1120)
draw_cdf(ax_a, nse_a, cdf_a, 'red', '(a)')
ax_a.set_xticklabels([])

ax_c = make_axes(fig, 253, 1326, 1256, 2285)
draw_cdf(ax_c, nse_c, cdf_c, 'blue', '(c)')
ax_c.set_xticklabels(tick_text)
ax_c.set_xlabel('NSE', fontsize=60, color='#262626')
ax_c.xaxis.set_label_coords(0.5, (2285 - 2445) / 959)

ax_b = make_axes(fig, 1427, 139, 4075, 1112)
ax_b.set_xlim(1427, 4075)
ax_b.set_ylim(1112, 139)
draw_map(ax_b, [('z5', na_b), ('z6', eu_b), ('z7', as_b)], 0, '(b)', 'red')

ax_d = make_axes(fig, 1427, 1318, 4075, 2292)
ax_d.set_xlim(1427, 4075)
ax_d.set_ylim(2292, 1318)
draw_map(ax_d, [('z8', na_d), ('z9', eu_d), ('z10', as_d)], 1183, '(d)', 'blue')

# colorbar under panel (d)
cax = make_axes(fig, 1432, 2345, 4055, 2413)
cb = fig.colorbar(ScalarMappable(norm=Normalize(0, 1), cmap=jet), cax=cax, orientation='horizontal', ticks=cbar_vals)
cb.ax.set_xticklabels(cbar_text, family='Liberation Sans')
cb.ax.tick_params(direction='in', length=19, width=2, color='#262626', labelcolor='#262626', labelsize=44, pad=43)
cb.outline.set_linewidth(3.5)
cb.outline.set_edgecolor('#333333')

fig.savefig('out.png', dpi=100, facecolor='white')
plt.close(fig)
